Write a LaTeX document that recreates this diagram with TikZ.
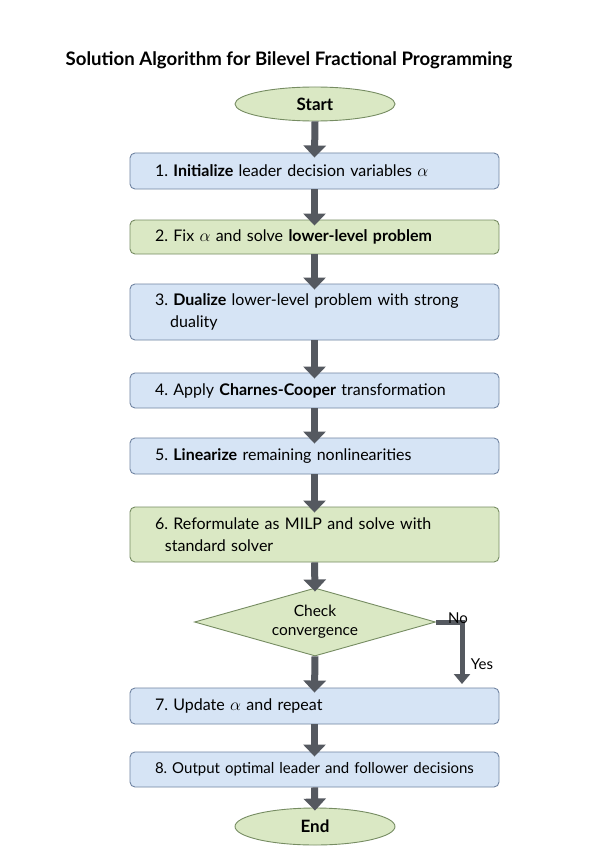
\documentclass[tikz,border=0pt]{standalone}
\usepackage{fontspec}
\setmainfont{Lato}
\frenchspacing
\usetikzlibrary{shapes.geometric,arrows.meta,positioning}
\definecolor{bluefill}{RGB}{214,228,245}
\definecolor{blueline}{RGB}{112,132,162}
\definecolor{greenfill}{RGB}{218,232,196}
\definecolor{greenline}{RGB}{118,140,98}
\definecolor{arrowcol}{RGB}{85,89,96}
\begin{document}
\begin{tikzpicture}[x=1pt,y=-1pt,
  every node/.style={font=\fontsize{16}{22.5}\selectfont\frenchspacing},
  stepbox/.style={draw=blueline,fill=bluefill,line width=0.9pt,rounded corners=5pt,
    minimum width=369pt,text width=319pt,align=left,inner xsep=0pt},
  bluebox/.style={stepbox},
  greenbox/.style={stepbox,draw=greenline,fill=greenfill},
  term/.style={ellipse,draw=greenline,fill=greenfill,line width=0.9pt,minimum width=160pt,
    font=\fontsize{17}{20}\selectfont\bfseries},
  flow/.style={draw=arrowcol,line width=7pt,-{Triangle[width=22pt,length=12pt]}},
  thinflow/.style={draw=arrowcol,line width=5pt,-{Triangle[width=16pt,length=10pt]}},
  lbl/.style={font=\fontsize{15}{18}\selectfont,inner sep=0pt}
]
\useasboundingbox (0,0) rectangle (604,853);
\fill[white] (0,0) rectangle (604,853);

\node[font=\fontsize{18.6}{22}\selectfont\bfseries] (title) at (289,60) {Solution Algorithm for Bilevel Fractional Programming};

\node[term,minimum height=34pt] (start) at (315,104) {Start};

\node[bluebox,minimum height=36pt] (b1) at (314.5,171) {1. \textbf{Initialize} leader decision variables $\alpha$};
\node[greenbox,minimum height=34pt] (b2) at (314.5,237) {2. Fix $\alpha$ and solve \textbf{lower-level problem}};
\node[bluebox,minimum height=56pt] (b3) at (314.5,312) {3. \textbf{Dualize} lower-level problem with strong\\\hspace*{0.95em}duality};
\node[bluebox,minimum height=35pt] (b4) at (314.5,390.5) {4. Apply \textbf{Charnes-Cooper} transformation};
\node[bluebox,minimum height=36pt] (b5) at (314.5,456) {5. \textbf{Linearize} remaining nonlinearities};
\node[greenbox,minimum height=55pt] (b6) at (314.5,534.5) {6. Reformulate as MILP and solve with\\\hspace*{0.62em}standard solver};

\node[diamond,draw=greenline,fill=greenfill,line width=0.9pt,aspect=3.5,
  minimum width=241pt,minimum height=68pt,inner sep=0pt,align=center,
  font=\fontsize{15.5}{19}\selectfont] (chk) at (315,622) {Check\\convergence};

\node[bluebox,minimum height=36pt] (b7) at (314.5,706) {7. Update $\alpha$ and repeat};
\node[bluebox,minimum height=35pt,font=\fontsize{15}{20}\selectfont] (b8) at (314.5,769.5) {\mbox{8. Output optimal leader and follower decisions}};

\node[term,minimum height=37pt] (end) at (315,826.5) {End};

\draw[flow] (start.south) -- ([yshift=-5pt]b1.north);
\draw[flow] (b1.south) -- ([yshift=-6pt]b2.north);
\draw[flow] (b2.south) -- ([yshift=-6pt]b3.north);
\draw[flow] (b3.south) -- ([yshift=-6pt]b4.north);
\draw[flow] (b4.south) -- ([yshift=-6pt]b5.north);
\draw[flow] (b5.south) -- ([yshift=-6pt]b6.north);
\draw[flow] (b6.south) -- ([yshift=-4pt]chk.north);
\draw[flow] (chk.south) -- ([yshift=-5pt]b7.north);
\draw[flow] (b7.south) -- ([yshift=-5pt]b8.north);
\draw[flow] (b8.south) -- ([yshift=-3pt]end.north);

\coordinate (corner) at (462,622);
\coordinate (yesend) at (462,684);
\draw[thinflow] (chk.east) -- (corner) -- (yesend);
\node[lbl] (no) at (458,618) {No};
\node[lbl] (yes) at (482,664) {Yes};
\end{tikzpicture}
\end{document}
